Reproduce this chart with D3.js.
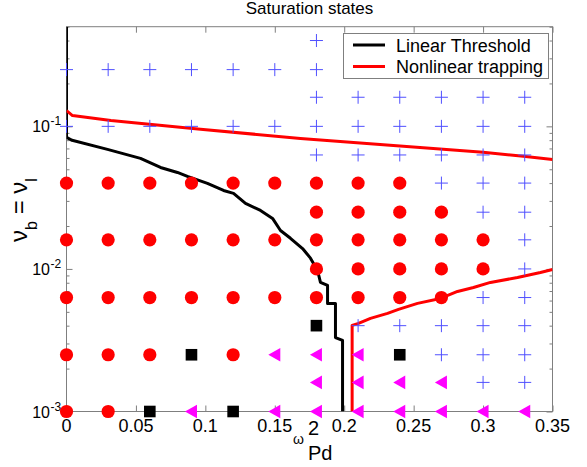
<!DOCTYPE html>
<html>
<head>
<meta charset="utf-8">
<script src="https://cdn.jsdelivr.net/npm/d3@7"></script>
<style>
  html, body { margin: 0; padding: 0; background: #fff; }
  svg { display: block; font-family: "Liberation Sans", Arial, sans-serif; }
</style>
</head>
<body>
<svg id="chart" width="587" height="467"></svg>
<script>
// ---------- data ----------
const titleText = "Saturation states";
const xTicks = [0, 0.05, 0.1, 0.15, 0.2, 0.25, 0.3, 0.35];
const xTickLabels = ["0", "0.05", "0.1", "0.15", "0.2", "0.25", "0.3", "0.35"];
const yMajor = [1e-3, 1e-2, 1e-1];
const yMajorExp = ["-3", "-2", "-1"];
const legendLabels = ["Linear Threshold", "Nonlinear trapping"];

// Linear threshold curve
const blackX = [0, 0, 0.004, 0.0295, 0.0533, 0.0677, 0.0799, 0.0871, 0.1015, 0.1131, 0.1203, 0.1289, 0.1397, 0.1484, 0.1541, 0.1613, 0.17, 0.1757, 0.1808, 0.1829, 0.188, 0.188, 0.1937, 0.1937, 0.1988, 0.1988];
const blackY = [0.5, 0.0837, 0.0798, 0.069, 0.0596, 0.0515, 0.0475, 0.0446, 0.0398, 0.0355, 0.0339, 0.0288, 0.0257, 0.0226, 0.0186, 0.0164, 0.0139, 0.0119, 0.00976, 0.00804, 0.00766, 0.00573, 0.00573, 0.0033, 0.00315, 0.001];
// Nonlinear trapping, upper branch
const redUpX = [0, 0.0043, 0.032, 0.0965, 0.1685, 0.233, 0.300, 0.329, 0.35];
const redUpY = [0.129, 0.119, 0.110, 0.0953, 0.0823, 0.0736, 0.0658, 0.0616, 0.0586];
// Nonlinear trapping, lower branch
const redLoX = [0.2057, 0.2057, 0.2103, 0.2189, 0.2312, 0.2391, 0.2528, 0.2693, 0.2816, 0.2931, 0.3053, 0.3248, 0.3413, 0.35];
const redLoY = [0.001, 0.00402, 0.00415, 0.0045, 0.00488, 0.0052, 0.00573, 0.00621, 0.00695, 0.00741, 0.00804, 0.00871, 0.00944, 0.0099];

// Saturation-state markers [omega^2, nu]
const circlePts = [
  [0,0.04],[0.03,0.04],[0.06,0.04],[0.09,0.04],[0.12,0.04],[0.15,0.04],
  [0,0.016],[0.03,0.016],[0.06,0.016],[0.09,0.016],[0.12,0.016],[0.15,0.016],
  [0,0.0063],[0.03,0.0063],[0.06,0.0063],[0.09,0.0063],[0.12,0.0063],[0.15,0.0063],
  [0,0.0025],[0.03,0.0025],[0.06,0.0025],[0.12,0.0025],
  [0,0.001],[0.03,0.001],
  [0.18,0.04],[0.18,0.025],[0.18,0.016],[0.18,0.01],[0.18,0.0063],
  [0.21,0.04],[0.21,0.025],[0.21,0.016],[0.21,0.01],[0.21,0.0063],
  [0.24,0.04],[0.24,0.025],[0.24,0.016],[0.24,0.01],[0.24,0.0063],
  [0.27,0.025],[0.27,0.016],[0.27,0.01],[0.27,0.0063],
  [0.30,0.016],[0.30,0.01]
];
const crossPts = [
  [0,0.25],[0.03,0.25],[0.06,0.25],[0.09,0.25],[0.12,0.25],[0.15,0.25],
  [0,0.1],[0.03,0.1],[0.06,0.1],[0.09,0.1],[0.12,0.1],[0.15,0.1],
  [0.18,0.4],[0.18,0.25],[0.18,0.16],[0.18,0.1],[0.18,0.063],
  [0.21,0.4],[0.21,0.25],[0.21,0.16],[0.21,0.1],[0.21,0.063],[0.21,0.004],
  [0.24,0.4],[0.24,0.25],[0.24,0.16],[0.24,0.1],[0.24,0.063],[0.24,0.004],
  [0.27,0.4],[0.27,0.25],[0.27,0.16],[0.27,0.1],[0.27,0.063],[0.27,0.04],[0.27,0.004],[0.27,0.0025],
  [0.30,0.4],[0.30,0.25],[0.30,0.16],[0.30,0.1],[0.30,0.063],[0.30,0.04],[0.30,0.025],[0.30,0.0063],[0.30,0.004],[0.30,0.0025],[0.30,0.0016],
  [0.33,0.4],[0.33,0.25],[0.33,0.16],[0.33,0.1],[0.33,0.063],[0.33,0.04],[0.33,0.025],[0.33,0.016],[0.33,0.01],[0.33,0.0063],[0.33,0.004],[0.33,0.0025],[0.33,0.0016]
];
const squarePts = [[0.09,0.0025],[0.06,0.001],[0.12,0.001],[0.18,0.004],[0.24,0.0025]];
const trianglePts = [
  [0.15,0.0025],[0.09,0.001],[0.15,0.001],
  [0.18,0.0025],[0.18,0.0016],[0.18,0.001],
  [0.21,0.0025],[0.21,0.0016],[0.21,0.001],
  [0.24,0.0016],[0.24,0.001],
  [0.27,0.0016],[0.27,0.001],
  [0.30,0.001],[0.33,0.001]
];

// ---------- layout ----------
const L = 66.5, R = 552.5, T = 26.7, B = 411.5;
const axisColor = "#7f7f7f";
const svg = d3.select("#chart");

const x = d3.scaleLinear().domain([0, 0.35]).range([L, R]);
const y = d3.scaleLog().domain([1e-3, 0.5]).range([B, T]);

svg.append("defs").append("clipPath").attr("id", "clip")
  .append("rect").attr("x", L).attr("y", T).attr("width", R - L).attr("height", B - T);

// minor y ticks
const yMinor = [];
[1e-3, 1e-2, 1e-1].forEach(d => { for (let k = 2; k <= 9; k++) { const v = d * k; if (v <= 0.5) yMinor.push(v); } });

function styleAxis(g) {
  g.select(".domain").remove();
  g.selectAll(".tick line").attr("stroke", axisColor).attr("stroke-width", 1);
}
// bottom/top x ticks (inward)
svg.append("g").attr("transform", `translate(0,${B})`)
  .call(d3.axisBottom(x).tickValues(xTicks).tickSize(-6).tickFormat("")).call(styleAxis);
svg.append("g").attr("transform", `translate(0,${T})`)
  .call(d3.axisTop(x).tickValues(xTicks).tickSize(-6).tickFormat("")).call(styleAxis);
// left/right y ticks
svg.append("g").attr("transform", `translate(${L},0)`)
  .call(d3.axisLeft(y).tickValues(yMajor).tickSize(-6).tickFormat("")).call(styleAxis);
svg.append("g").attr("transform", `translate(${L},0)`)
  .call(d3.axisLeft(y).tickValues(yMinor).tickSize(-3).tickFormat("")).call(styleAxis);
svg.append("g").attr("transform", `translate(${R},0)`)
  .call(d3.axisRight(y).tickValues(yMajor).tickSize(-6).tickFormat("")).call(styleAxis);
svg.append("g").attr("transform", `translate(${R},0)`)
  .call(d3.axisRight(y).tickValues(yMinor).tickSize(-3).tickFormat("")).call(styleAxis);

// box
svg.append("rect").attr("x", L).attr("y", T).attr("width", R - L).attr("height", B - T)
  .attr("fill", "none").attr("stroke", axisColor).attr("stroke-width", 1);

// x tick labels
svg.append("g").selectAll("text").data(xTicks).join("text")
  .attr("x", d => x(d)).attr("y", 432).attr("text-anchor", "middle")
  .attr("font-size", 18).attr("fill", "#000")
  .text((d, i) => xTickLabels[i]);

// y tick labels 10^k
const yl = svg.append("g").selectAll("g").data(yMajor).join("g");
yl.append("text").attr("x", 50).attr("y", d => y(d) + 6).attr("text-anchor", "end")
  .attr("font-size", 16).attr("fill", "#000").text("10");
yl.append("text").attr("x", 50.5).attr("y", d => y(d) - 1).attr("text-anchor", "start")
  .attr("font-size", 12).attr("fill", "#000").text((d, i) => yMajorExp[i]);

// curves
const line = d3.line().x(d => x(d[0])).y(d => y(d[1]));
const plot = svg.append("g").attr("clip-path", "url(#clip)");
plot.append("path").datum(blackX.map((v, i) => [v, blackY[i]]))
  .attr("d", line).attr("fill", "none").attr("stroke", "#000").attr("stroke-width", 3).attr("stroke-linejoin", "round");
plot.append("path").datum(redUpX.map((v, i) => [v, redUpY[i]]))
  .attr("d", line).attr("fill", "none").attr("stroke", "#ff0000").attr("stroke-width", 3).attr("stroke-linejoin", "round");
plot.append("path").datum(redLoX.map((v, i) => [v, redLoY[i]]))
  .attr("d", line).attr("fill", "none").attr("stroke", "#ff0000").attr("stroke-width", 3).attr("stroke-linejoin", "round");

// markers
const mk = svg.append("g");
mk.selectAll("path.cross").data(crossPts).join("path").attr("class", "cross")
  .attr("d", d => { const cx = x(d[0]), cy = y(d[1]), r = 6.5; return `M${cx - r},${cy}H${cx + r}M${cx},${cy - r}V${cy + r}`; })
  .attr("stroke", "#5050ff").attr("stroke-width", 1).attr("fill", "none");
mk.selectAll("circle").data(circlePts).join("circle")
  .attr("cx", d => x(d[0])).attr("cy", d => y(d[1])).attr("r", 6.6).attr("fill", "#ff0000");
mk.selectAll("rect").data(squarePts).join("rect")
  .attr("x", d => x(d[0]) - 5.8).attr("y", d => y(d[1]) - 5.8).attr("width", 11.6).attr("height", 11.6).attr("fill", "#000");
mk.selectAll("path.tri").data(trianglePts).join("path").attr("class", "tri")
  .attr("d", d => { const cx = x(d[0]), cy = y(d[1]); return `M${cx - 6.5},${cy}L${cx + 5.5},${cy - 6.8}L${cx + 5.5},${cy + 6.8}Z`; })
  .attr("fill", "#ff00ff");

// legend
const lg = svg.append("g");
lg.append("rect").attr("x", 343.5).attr("y", 33.5).attr("width", 205).attr("height", 45)
  .attr("fill", "#fff").attr("stroke", axisColor).attr("stroke-width", 1);
[["#000", 45], ["#ff0000", 66.5]].forEach((c, i) => {
  lg.append("line").attr("x1", 353).attr("x2", 385).attr("y1", c[1]).attr("y2", c[1])
    .attr("stroke", c[0]).attr("stroke-width", 3);
  lg.append("text").attr("x", 396).attr("y", c[1] + 6.5).attr("font-size", 18).attr("fill", "#000")
    .text(legendLabels[i]);
});

// title
svg.append("text").attr("x", (L + R) / 2).attr("y", 14).attr("text-anchor", "middle")
  .attr("font-size", 17).attr("fill", "#000").text(titleText);

// x label: omega^2_Pd (MATLAB style)
svg.append("text").attr("x", 293).attr("y", 444).attr("font-size", 14).attr("fill", "#000").text("ω");
svg.append("text").attr("x", 308).attr("y", 435).attr("font-size", 20).attr("fill", "#000").text("2");
svg.append("text").attr("x", 308).attr("y", 460).attr("font-size", 20).attr("fill", "#000").text("Pd");

// y label: nu_b = nu_l
const ylab = svg.append("text").attr("transform", "translate(27,210) rotate(-90)")
  .attr("text-anchor", "middle").attr("font-size", 24).attr("fill", "#000");
ylab.append("tspan").text("ν");
ylab.append("tspan").attr("font-size", 16).attr("dy", 10).text("b");
ylab.append("tspan").attr("dy", -10).text(" = ν");
ylab.append("tspan").attr("font-size", 16).attr("dy", 10).text("l");
</script>
</body>
</html>
